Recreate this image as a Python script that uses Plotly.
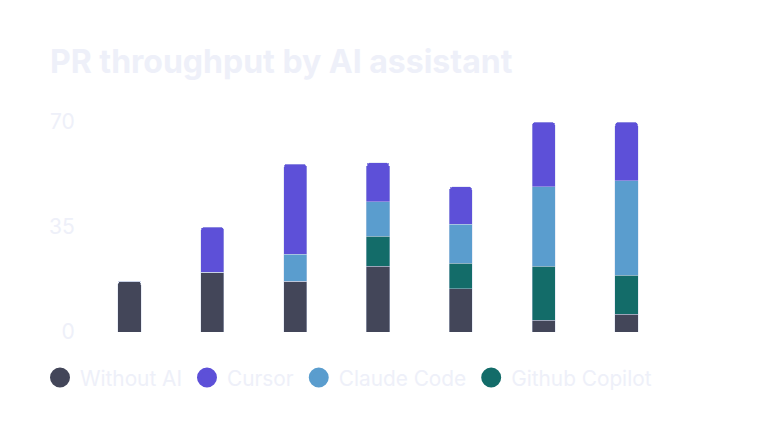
import plotly.graph_objects as go

categories = ["1", "2", "3", "4", "5", "6", "7"]
without_ai = [17, 20, 17, 22, 14.5, 4, 6]
github_copilot = [0, 0, 0, 10, 8.5, 18, 13]
claude_code = [0, 0, 9, 11.5, 13, 26.5, 31.5]
cursor = [0, 15, 30, 13, 12.5, 21.5, 19.5]
y_ticks = [0, 35, 70]

colors = {
    "Without AI": "#434659",
    "Cursor": "#5d50d8",
    "Claude Code": "#5a9dce",
    "Github Copilot": "#136c69",
}
text_color = "#eef0f9"
font_family = "Inter"

W, H = 766, 430
L, T, PW, PH = 80, 102, 580, 222

fig = go.Figure()
stack = [("Without AI", without_ai), ("Github Copilot", github_copilot),
         ("Claude Code", claude_code), ("Cursor", cursor)]
for name, vals in stack:
    fig.add_trace(go.Bar(
        x=categories, y=vals, name=name, showlegend=False,
        marker=dict(color=colors[name], line=dict(color="rgba(205,215,235,0.7)", width=0.6)),
        width=0.28,
    ))

legend_order = ["Without AI", "Cursor", "Claude Code", "Github Copilot"]
for i, name in enumerate(legend_order):
    fig.add_trace(go.Scatter(
        x=[None], y=[None], mode="markers", name=name, legendrank=i + 1,
        marker=dict(color=colors[name], size=16, symbol="circle",
                    line=dict(color=colors[name], width=4)),
    ))

fig.update_layout(
    barmode="stack",
    barcornerradius=4,
    width=W, height=H,
    paper_bgcolor="white", plot_bgcolor="white",
    margin=dict(l=L, r=W - L - PW, t=T, b=H - T - PH),
    font=dict(family=font_family, color=text_color),
    title=dict(text="<b>PR throughput by AI assistant</b>", x=42 / W, xanchor="left",
               y=1 - 54 / H, yanchor="middle",
               font=dict(size=32, color=text_color, family=font_family)),
    xaxis=dict(showticklabels=False, showgrid=False, zeroline=False, showline=False,
               range=[-0.5, 6.5]),
    yaxis=dict(range=[0, 74], tickvals=y_ticks, showgrid=False, zeroline=False,
               showline=False, ticks="outside", ticklen=8, tickcolor="rgba(0,0,0,0)",
               tickfont=dict(size=21, color=text_color, family=font_family)),
    legend=dict(orientation="h", x=(32 - L) / PW, xanchor="left", y=-(370 - T - PH) / PH,
                yanchor="middle", font=dict(size=20.8, color=text_color, family=font_family),
                itemsizing="trace", traceorder="normal"),
    showlegend=True,
)

fig.write_html("out.html")
